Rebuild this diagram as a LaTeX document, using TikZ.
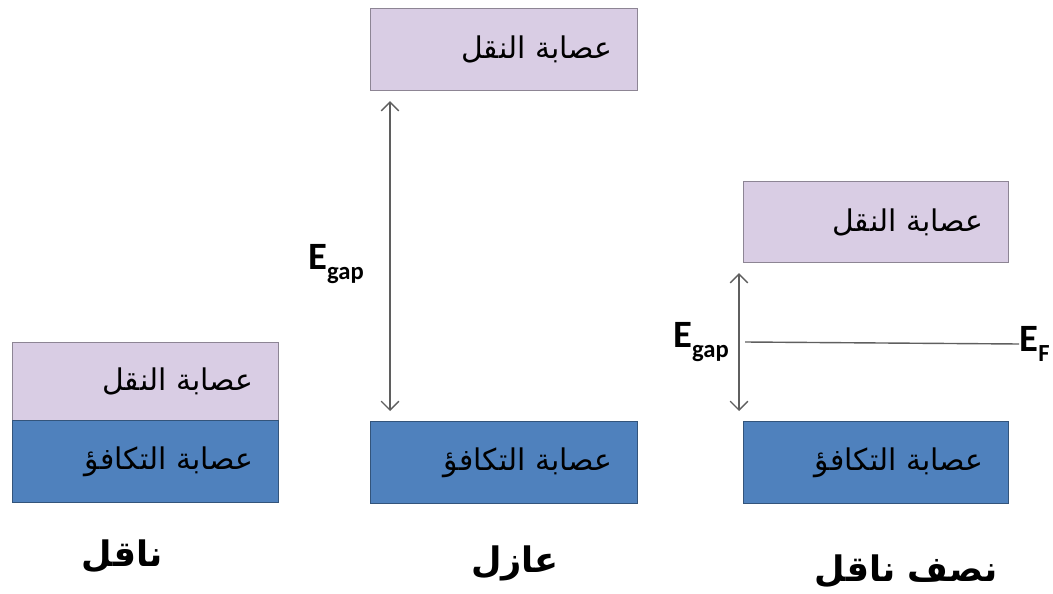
\documentclass[tikz,border=0pt]{standalone}
\usepackage{fontspec}
\setmainfont{Carlito}
\newfontfamily\arabicfont[Script=Arabic]{DejaVu Sans}
\TeXXeTstate=1
\usetikzlibrary{arrows.meta}
\definecolor{Cond}{RGB}{217,205,228}
\definecolor{Val}{RGB}{79,129,189}
\definecolor{GapLine}{RGB}{95,95,95}
\newcommand{\Band}[7]{% name x y w h colour text
\node[band,fill=#6,draw=#6!65!black,minimum height={#5*0.02cm},
  text width={(#4-50)*0.02cm},anchor=north west] (#1) at (#2,#3)
  {\arabicfont #7};
}
\newcommand{\Egap}[1]{E\raisebox{-0.55ex}{\fontsize{14}{14}\selectfont #1}}
\tikzset{
  band/.style={inner xsep=0.5cm,inner ysep=0pt,align=right,line width=0.6pt,
    font=\fontsize{17}{20}\selectfont},
  gaparrow/.style={{Straight Barb[length=5pt,width=10pt]}-{Straight Barb[length=5pt,width=10pt]},
    GapLine,line width=0.8pt},
  energy/.style={font=\fontsize{22}{24}\selectfont\bfseries},
  kind/.style={font=\fontsize{20}{24}\selectfont\bfseries}
}
\begin{document}
\begin{tikzpicture}[x=0.02cm,y=-0.02cm]
\useasboundingbox (0,0) rectangle (1053,594);
% conductor
\Band{con-cb}{12}{342}{266}{78}{Cond}{\beginR عصابة النقل\endR}
\Band{con-vb}{12}{420}{266}{82}{Val}{\beginR عصابة التكافؤ\endR}
\node[kind] (con-name) at (122,556) {\arabicfont\beginR ناقل\endR};
% insulator
\Band{ins-cb}{370}{8}{267}{82}{Cond}{\beginR عصابة النقل\endR}
\Band{ins-vb}{370}{421}{267}{82}{Val}{\beginR عصابة التكافؤ\endR}
\coordinate (ins-top) at ([shift={(20,10)}]ins-cb.south west);
\coordinate (ins-bot) at ([shift={(20,-10)}]ins-vb.north west);
\draw[gaparrow] (ins-top) -- (ins-bot);
\node[energy] (ins-gap) at (336,264) {\Egap{gap}};
\node[kind] (ins-name) at (515,563) {\arabicfont\beginR عازل\endR};
% semiconductor
\Band{semi-cb}{743}{181}{265}{81}{Cond}{\beginR عصابة النقل\endR}
\Band{semi-vb}{743}{421}{265}{82}{Val}{\beginR عصابة التكافؤ\endR}
\coordinate (semi-top) at ([shift={(-4,10)}]semi-cb.south west);
\coordinate (semi-bot) at ([shift={(-4,-10)}]semi-vb.north west);
\draw[gaparrow] (semi-top) -- (semi-bot);
\node[energy] (semi-gap) at (701,342) {\Egap{gap}};
\node[energy,inner xsep=0pt,anchor=east] (semi-ef) at (1050,344) {\Egap{F}};
\coordinate (ef-start) at (745,342);
\draw[GapLine,line width=0.8pt] (ef-start) -- (semi-ef.west);
\node[kind] (semi-name) at (906,571) {\arabicfont\beginR نصف ناقل\endR};
\end{tikzpicture}
\end{document}
